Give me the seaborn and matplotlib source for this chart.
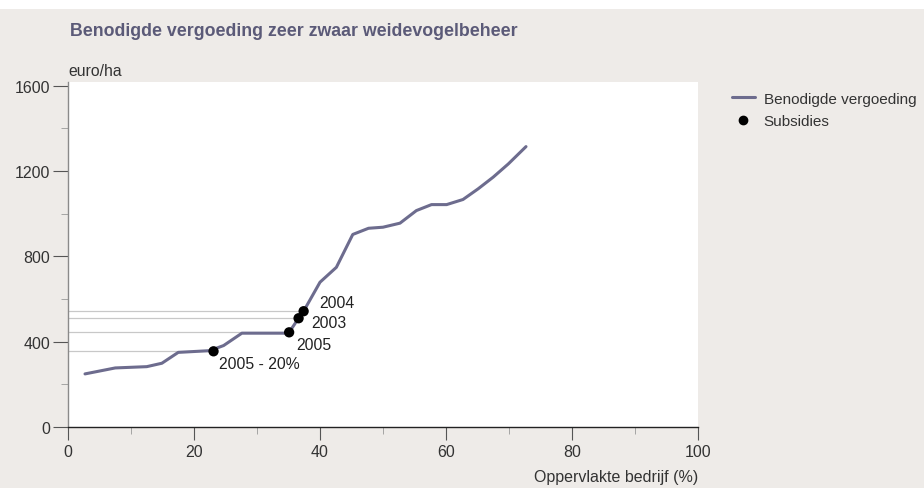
import matplotlib
matplotlib.use("Agg")
import matplotlib.pyplot as plt
import matplotlib.patches as mpatches
from matplotlib.lines import Line2D
from matplotlib.ticker import MultipleLocator
import seaborn as sns
import pandas as pd

# curve: benodigde vergoeding (euro/ha) vs oppervlakte bedrijf (%)
opp = [2.7, 7.5, 12.5, 14.9, 17.5, 22.5, 24.7, 27.6, 34.4, 35.1, 36.6, 37.4,
       40.0, 42.6, 45.2, 47.7, 50.0, 52.7, 55.3, 57.7, 60.1, 62.7, 65.1,
       67.5, 69.9, 72.7]
vergoeding = [249, 277, 283, 299, 350, 358, 382, 440, 440, 444, 510, 543,
              679, 749, 903, 932, 937, 956, 1015, 1043, 1043, 1067, 1117,
              1172, 1234, 1315]

# subsidies
sub_x = [23.1, 35.1, 36.6, 37.4]
sub_y = [355, 444, 510, 543]
sub_labels = ["2005 - 20%", "2005", "2003", "2004"]
label_offsets = [(4, -9), (5, -9), (9, -3), (11, 6.5)]

bg = "#eeebe8"
line_col = "#6d6c8e"
title_col = "#5b5a78"

sns.set_style("white")
plt.rcParams["font.family"] = ["Liberation Sans", "DejaVu Sans"]

df_line = pd.DataFrame({"x": opp, "y": vergoeding})
df_sub = pd.DataFrame({"x": sub_x, "y": sub_y, "label": sub_labels})

fig = plt.figure(figsize=(9.24, 4.89), dpi=100, facecolor=bg)
fig.patches.append(mpatches.Rectangle((0, 1 - 10 / 489), 1, 10 / 489,
                                      transform=fig.transFigure,
                                      facecolor="white", edgecolor="none"))
ax = fig.add_axes([68 / 924, 61 / 489, 630 / 924, 345 / 489])
ax.set_facecolor("white")

# reference lines from the axis to each subsidy point
for yv, xv in zip(sub_y, sub_x):
    ax.plot([0, xv], [yv, yv], color="#c8c8c8", lw=0.9, zorder=1)

sns.lineplot(data=df_line, x="x", y="y", ax=ax, color=line_col, lw=2.2,
             zorder=2, legend=False)
sns.scatterplot(data=df_sub, x="x", y="y", ax=ax, color="black", s=55,
                edgecolor="none", zorder=3, legend=False)
for xv, yv, lab, off in zip(sub_x, sub_y, sub_labels, label_offsets):
    ax.annotate(lab, (xv, yv), xytext=off, textcoords="offset points",
                fontsize=11.3, color="#222222", va="center", ha="left")

ax.set_xlim(0, 100)
ax.set_ylim(0, 1618)
ax.xaxis.set_major_locator(MultipleLocator(20))
ax.xaxis.set_minor_locator(MultipleLocator(10))
ax.yaxis.set_major_locator(MultipleLocator(400))
ax.yaxis.set_minor_locator(MultipleLocator(200))
ax.tick_params(axis="both", which="major", labelsize=11.5, colors="#555555",
               labelcolor="#333333", width=0.8)
ax.tick_params(axis="y", which="major", length=11, pad=2, left=True)
ax.tick_params(axis="y", which="minor", length=5, left=True, color="#999999")
ax.tick_params(axis="x", which="major", length=9, bottom=True)
ax.tick_params(axis="x", which="minor", length=5, bottom=True, color="#999999")

for s in ["top", "right"]:
    ax.spines[s].set_visible(False)
ax.spines["left"].set_color("#8a8a8a")
ax.spines["bottom"].set_color("#222222")
ax.spines["left"].set_linewidth(1.0)
ax.spines["bottom"].set_linewidth(1.0)

ax.set_xlabel("")
ax.set_ylabel("")
fig.text(698 / 924, 1 - 478 / 489, "Oppervlakte bedrijf (%)", ha="right",
         va="center", fontsize=11.5, color="#333333")
fig.text(68 / 924, 1 - 71 / 489, "euro/ha", ha="left", va="center",
         fontsize=11.3, color="#333333")
fig.text(70 / 924, 1 - 32 / 489, "Benodigde vergoeding zeer zwaar weidevogelbeheer",
         ha="left", va="center", fontsize=12.8, fontweight="bold", color=title_col)

handles = [Line2D([0], [0], color=line_col, lw=2.2),
           Line2D([0], [0], marker="o", color="black", lw=0, markersize=6)]
fig.legend(handles, ["Benodigde vergoeding", "Subsidies"], loc="upper left",
           bbox_to_anchor=(718 / 924, 1 - 79 / 489), frameon=False,
           fontsize=11, handlelength=1.5, handletextpad=0.6,
           labelspacing=0.55, labelcolor="#333333")

fig.savefig("out.png", dpi=100, facecolor=bg)
